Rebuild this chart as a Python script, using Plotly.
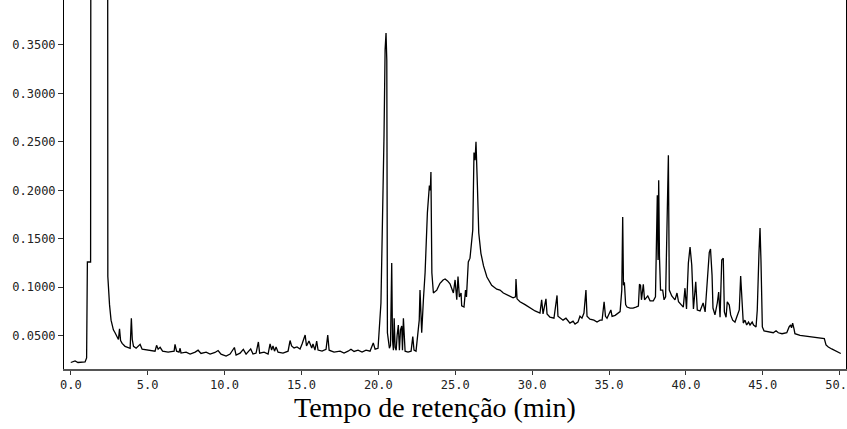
import plotly.graph_objects as go

# Retention time (min) and detector response
time_min = [
    0.00, 0.28, 0.47, 0.93, 1.03, 1.08, 1.29, 1.32, 1.80, 2.39, 2.41, 2.46, 2.52, 2.62, 2.77,
    2.88, 2.99, 3.10, 3.17, 3.24, 3.34, 3.53, 3.86, 3.94, 4.00, 4.08, 4.25, 4.51, 4.64, 5.03,
    5.48, 5.58, 5.68, 5.81, 5.97, 6.33, 6.72, 6.78, 6.88, 7.04, 7.11, 7.17, 7.50, 7.76, 8.09,
    8.28, 8.47, 8.80, 9.06, 9.38, 9.58, 9.77, 10.10, 10.36, 10.64, 10.75, 11.01, 11.22, 11.40,
    11.70, 11.85, 12.05, 12.20, 12.28, 12.57, 12.83, 12.96, 13.06, 13.15, 13.25, 13.35, 13.48,
    13.80, 14.13, 14.26, 14.36, 14.52, 14.71, 14.91, 15.04, 15.24, 15.33, 15.49, 15.67, 15.75,
    15.88, 15.99, 16.08, 16.34, 16.60, 16.71, 16.80, 17.12, 17.51, 17.77, 18.03, 18.22, 18.42,
    18.68, 18.94, 19.20, 19.46, 19.67, 19.79, 19.98, 20.17, 20.26, 20.37, 20.44, 20.50, 20.55,
    20.59, 20.72, 20.79, 20.87, 20.92, 20.98, 21.03, 21.09, 21.16, 21.22, 21.30, 21.37, 21.44,
    21.52, 21.57, 21.63, 21.69, 21.74, 21.93, 22.13, 22.24, 22.32, 22.45, 22.60, 22.66, 22.71,
    22.78, 22.82, 22.93, 23.04, 23.19, 23.32, 23.38, 23.42, 23.48, 23.58, 23.80, 24.01, 24.21,
    24.34, 24.50, 24.66, 24.88, 24.99, 25.10, 25.18, 25.27, 25.38, 25.42, 25.57, 25.67, 25.73,
    25.85, 25.96, 26.14, 26.22, 26.29, 26.35, 26.44, 26.53, 26.67, 26.84, 27.06, 27.37, 27.70,
    27.91, 28.13, 28.37, 28.56, 28.76, 28.92, 28.95, 29.02, 29.21, 29.54, 29.86, 30.19, 30.51,
    30.62, 30.71, 30.90, 30.97, 31.16, 31.42, 31.62, 31.68, 31.81, 32.01, 32.20, 32.33, 32.46,
    32.66, 32.79, 32.98, 33.11, 33.24, 33.37, 33.50, 33.57, 33.76, 34.02, 34.22, 34.42, 34.55,
    34.68, 34.77, 34.87, 35.12, 35.20, 35.40, 35.59, 35.72, 35.83, 35.89, 35.94, 36.00, 36.08,
    36.17, 36.37, 36.56, 36.75, 36.91, 36.98, 37.05, 37.11, 37.23, 37.31, 37.52, 37.67, 37.88,
    38.02, 38.09, 38.14, 38.19, 38.23, 38.28, 38.35, 38.49, 38.58, 38.68, 38.75, 38.86, 38.92,
    39.08, 39.29, 39.42, 39.52, 39.68, 39.83, 39.94, 40.04, 40.16, 40.27, 40.38, 40.45, 40.49,
    40.64, 40.74, 40.92, 41.12, 41.25, 41.39, 41.52, 41.60, 41.70, 41.76, 41.89, 42.04, 42.13,
    42.22, 42.33, 42.43, 42.50, 42.61, 42.69, 42.82, 42.91, 43.04, 43.19, 43.30, 43.47, 43.56,
    43.65, 43.73, 43.84, 43.95, 44.07, 44.17, 44.31, 44.40, 44.56, 44.64, 44.75, 44.82, 44.88,
    44.97, 45.08, 45.36, 45.68, 45.86, 46.01, 46.25, 46.56, 46.71, 46.81, 46.87, 46.94, 47.03,
    47.09, 47.42, 47.86, 48.28, 48.72, 49.00, 49.11, 49.26, 49.48, 49.80, 50.07,
]
response = [
    0.0223, 0.0239, 0.0223, 0.0229, 0.0270, 0.1260, 0.1260, 0.8000, 1.6000, 0.8000, 0.1110, 0.0970, 0.0820, 0.0660, 0.0560,
    0.0530, 0.0490, 0.0460, 0.0570, 0.0450, 0.0420, 0.0390, 0.0370, 0.0680, 0.0460, 0.0390, 0.0370, 0.0410, 0.0360, 0.0350,
    0.0340, 0.0400, 0.0360, 0.0380, 0.0340, 0.0330, 0.0340, 0.0410, 0.0340, 0.0330, 0.0370, 0.0320, 0.0330, 0.0310, 0.0330,
    0.0350, 0.0316, 0.0330, 0.0310, 0.0327, 0.0347, 0.0310, 0.0290, 0.0310, 0.0378, 0.0300, 0.0320, 0.0358, 0.0310,
    0.0363, 0.0310, 0.0320, 0.0435, 0.0320, 0.0330, 0.0310, 0.0415, 0.0352, 0.0393, 0.0340, 0.0383, 0.0330,
    0.0320, 0.0340, 0.0450, 0.0394, 0.0373, 0.0383, 0.0363, 0.0414, 0.0507, 0.0394, 0.0445, 0.0373, 0.0414,
    0.0352, 0.0445, 0.0352, 0.0340, 0.0360, 0.0507, 0.0350, 0.0330, 0.0340, 0.0320, 0.0340, 0.0360, 0.0337,
    0.0350, 0.0330, 0.0350, 0.0340, 0.0425, 0.0360, 0.0370, 0.0837, 0.1570, 0.2570, 0.3450, 0.3624, 0.3340,
    0.0530, 0.0370, 0.0400, 0.1250, 0.0456, 0.0350, 0.0680, 0.0380, 0.0350, 0.0500, 0.0610, 0.0350, 0.0560,
    0.0600, 0.0350, 0.0680, 0.0400, 0.0340, 0.0330, 0.0340, 0.0490, 0.0350, 0.0340, 0.0560, 0.0660, 0.0970,
    0.0730, 0.0530, 0.0870, 0.1150, 0.1770, 0.2050, 0.2000, 0.2190, 0.1150, 0.0940, 0.0970, 0.1040, 0.1075,
    0.1085, 0.1065, 0.1035, 0.0940, 0.1075, 0.0870, 0.1110, 0.0900, 0.0940, 0.0807, 0.0795, 0.0970, 0.0900,
    0.1260, 0.1300, 0.1590, 0.2390, 0.2310, 0.2500, 0.2055, 0.1560, 0.1350, 0.1220, 0.1105, 0.1020, 0.0980,
    0.0970, 0.0940, 0.0920, 0.0900, 0.0890, 0.0900, 0.1085, 0.0880, 0.0850, 0.0820, 0.0786, 0.0755, 0.0734,
    0.0870, 0.0724, 0.0880, 0.0724, 0.0690, 0.0680, 0.0915, 0.0700, 0.0680, 0.0660, 0.0680, 0.0650, 0.0630,
    0.0650, 0.0620, 0.0640, 0.0700, 0.0680, 0.0734, 0.0970, 0.0700, 0.0670, 0.0660, 0.0640, 0.0660, 0.0660,
    0.0850, 0.0700, 0.0680, 0.0765, 0.0700, 0.0710, 0.0734, 0.0748, 0.0970, 0.1725, 0.1020, 0.1050, 0.0820,
    0.0795, 0.0785, 0.0785, 0.0795, 0.0805, 0.1030, 0.1020, 0.0870, 0.1030, 0.0870, 0.0910, 0.0860, 0.0860,
    0.0900, 0.1385, 0.1950, 0.1280, 0.2105, 0.1320, 0.0970, 0.0970, 0.0870, 0.0900, 0.1560, 0.2363, 0.0970,
    0.0910, 0.0870, 0.0940, 0.0850, 0.0816, 0.0795, 0.0990, 0.0775, 0.1250, 0.1415, 0.1230, 0.0816, 0.0775,
    0.1055, 0.0765, 0.0755, 0.0837, 0.0745, 0.1075, 0.1360, 0.1395, 0.1125, 0.0785, 0.0714, 0.0837, 0.0950,
    0.0690, 0.1280, 0.1300, 0.0745, 0.0690, 0.0850, 0.0816, 0.0714, 0.0660, 0.0640, 0.0690, 0.0765, 0.1116,
    0.0765, 0.0630, 0.0660, 0.0610, 0.0640, 0.0610, 0.0640, 0.0610, 0.0590, 0.0765, 0.1350, 0.1610, 0.1280,
    0.0590, 0.0550, 0.0540, 0.0530, 0.0550, 0.0530, 0.0520, 0.0530, 0.0590, 0.0610, 0.0580, 0.0630, 0.0570,
    0.0520, 0.0502, 0.0492, 0.0487, 0.0476, 0.0471, 0.0404, 0.0383, 0.0363, 0.0342, 0.0316,
]

x_ticks = [0, 5, 10, 15, 20, 25, 30, 35, 40, 45, 50]
y_ticks = [0.05, 0.10, 0.15, 0.20, 0.25, 0.30, 0.35]
x_title = "Tempo de retenção (min)"

tick_font = dict(family="DejaVu Sans Mono", size=12, color="#222222")

fig = go.Figure()
fig.add_trace(go.Scatter(
    x=time_min, y=response, mode="lines",
    line=dict(color="black", width=1.3), showlegend=False, hoverinfo="skip",
))

fig.update_layout(
    width=847, height=429,
    margin=dict(l=64, r=1, t=0, b=60, autoexpand=False),
    paper_bgcolor="white", plot_bgcolor="white",
    xaxis=dict(
        range=[-0.44, 50.41], tickvals=x_ticks, tickformat=".1f",
        showgrid=False, zeroline=False, automargin=False,
        showline=True, linecolor="#555555", linewidth=2, mirror=False,
        ticks="outside", ticklen=4, tickcolor="#333333",
        tickfont=tick_font, ticklabeloverflow="allow",
    ),
    yaxis=dict(
        range=[0.0156, 0.3964], tickvals=y_ticks, tickformat=".4f",
        showgrid=False, zeroline=False, automargin=False,
        showline=True, linecolor="black", linewidth=1, mirror=True,
        ticks="outside", ticklen=5, tickcolor="#333333",
        tickfont=tick_font,
    ),
    annotations=[dict(
        text=x_title, xref="paper", yref="paper",
        x=0.474, y=-0.103, xanchor="center", yanchor="middle",
        showarrow=False,
        font=dict(family="Liberation Serif", size=28, color="black"),
    )],
)

fig.write_html("out.html")
